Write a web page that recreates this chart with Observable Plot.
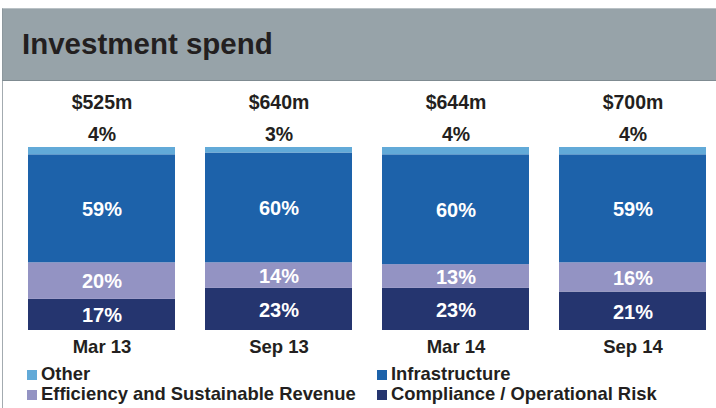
<!DOCTYPE html>
<html>
<head>
<meta charset="utf-8">
<script src="https://cdn.jsdelivr.net/npm/d3@7"></script>
<script src="https://cdn.jsdelivr.net/npm/@observablehq/plot@0.6"></script>
<style>
  html, body { margin: 0; padding: 0; background: #fff; }
  #wrap { position: relative; width: 716px; height: 408px; overflow: hidden; font-family: "Liberation Sans", Arial, sans-serif; color: #231f20; }
  #header { position: absolute; left: 2px; top: 8px; width: 714px; height: 71px; background: #97a3a9; border-top: 1px solid #b9c1c5; border-bottom: 1px solid #7f8b91; border-left: 1px solid #8c979d; }
  #title { position: absolute; left: 19px; top: 20px; font-size: 29.5px; line-height: 29.5px; font-weight: bold; white-space: nowrap; }
  #leftline { position: absolute; left: 2px; top: 81px; width: 1px; height: 327px; background: #a3abb0; }
  #chart { position: absolute; left: 0; top: 81px; }
  .lg { position: absolute; font-size: 18.4px; line-height: 18.4px; font-weight: bold; white-space: nowrap; }
  .sw { position: absolute; width: 10px; height: 10px; }
</style>
</head>
<body>
<div id="wrap">
  <div id="header"><div id="title">Investment spend</div></div>
  <div id="leftline"></div>
  <div id="chart"></div>
  <div id="legend"></div>
</div>
<script>
const periods = ["Mar 13", "Sep 13", "Mar 14", "Sep 14"];
const totals = ["$525m", "$640m", "$644m", "$700m"];
const series = ["Compliance / Operational Risk", "Efficiency and Sustainable Revenue", "Infrastructure", "Other"];
const compliance = [17, 23, 23, 21];
const efficiency = [20, 14, 13, 16];
const infrastructure = [59, 60, 60, 59];
const other = [4, 3, 4, 4];
const colors = ["#25356f", "#9393c3", "#1d62aa", "#62aad8"];
const legendOrder = ["Other", "Infrastructure", "Efficiency and Sustainable Revenue", "Compliance / Operational Risk"];

const valuesBySeries = [compliance, efficiency, infrastructure, other];
const data = [];
series.forEach((s, si) => periods.forEach((p, pi) => data.push({period: p, series: s, value: valuesBySeries[si][pi]})));
const totalsData = periods.map((p, i) => ({period: p, label: totals[i]}));
const otherData = periods.map((p, i) => ({period: p, value: other[i]}));

const stackOpts = {x: "period", y: "value", z: "series", order: series};

const plot = Plot.plot({
  width: 716,
  height: 280,
  style: {fontFamily: "'Liberation Sans', Arial, sans-serif", color: "#231f20", background: "transparent"},
  x: {domain: periods, range: [28, 706], paddingInner: 0.1695, paddingOuter: 0, label: null},
  y: {domain: [0, 100], range: [249, 66], axis: null},
  color: {domain: series, range: colors},
  marks: [
    Plot.barY(data, Plot.stackY({...stackOpts, fill: "series"})),
    Plot.text(data, Plot.stackY({...stackOpts, text: d => d.series === "Other" ? "" : d.value + "%", fill: "white", fontSize: 20, fontWeight: "bold", dy: 1})),
    Plot.text(otherData, {x: "period", y: () => 100, text: d => d.value + "%", fontSize: 19.5, fontWeight: "bold", fill: "#231f20", dy: -13}),
    Plot.text(totalsData, {x: "period", y: () => 100, text: "label", fontSize: 19.5, fontWeight: "bold", fill: "#231f20", dy: -45}),
    Plot.axisX({tickSize: 0, tickPadding: 8, fontSize: 18.5, fontWeight: "bold", label: null, fill: "#231f20"})
  ]
});
document.getElementById("chart").appendChild(plot);

// legend
const legendPos = [
  {x: 27, y: 370, tx: 41, ty: 364.5},
  {x: 377, y: 370, tx: 391, ty: 364.5},
  {x: 27, y: 390, tx: 41, ty: 384.5},
  {x: 377, y: 390, tx: 391, ty: 384.5}
];
const lg = document.getElementById("legend");
legendOrder.forEach((name, i) => {
  const p = legendPos[i];
  const sw = document.createElement("div");
  sw.className = "sw";
  sw.style.left = p.x + "px"; sw.style.top = p.y + "px";
  sw.style.background = colors[series.indexOf(name)];
  lg.appendChild(sw);
  const t = document.createElement("div");
  t.className = "lg";
  t.style.left = p.tx + "px"; t.style.top = p.ty + "px";
  t.textContent = name;
  lg.appendChild(t);
});
</script>
</body>
</html>
